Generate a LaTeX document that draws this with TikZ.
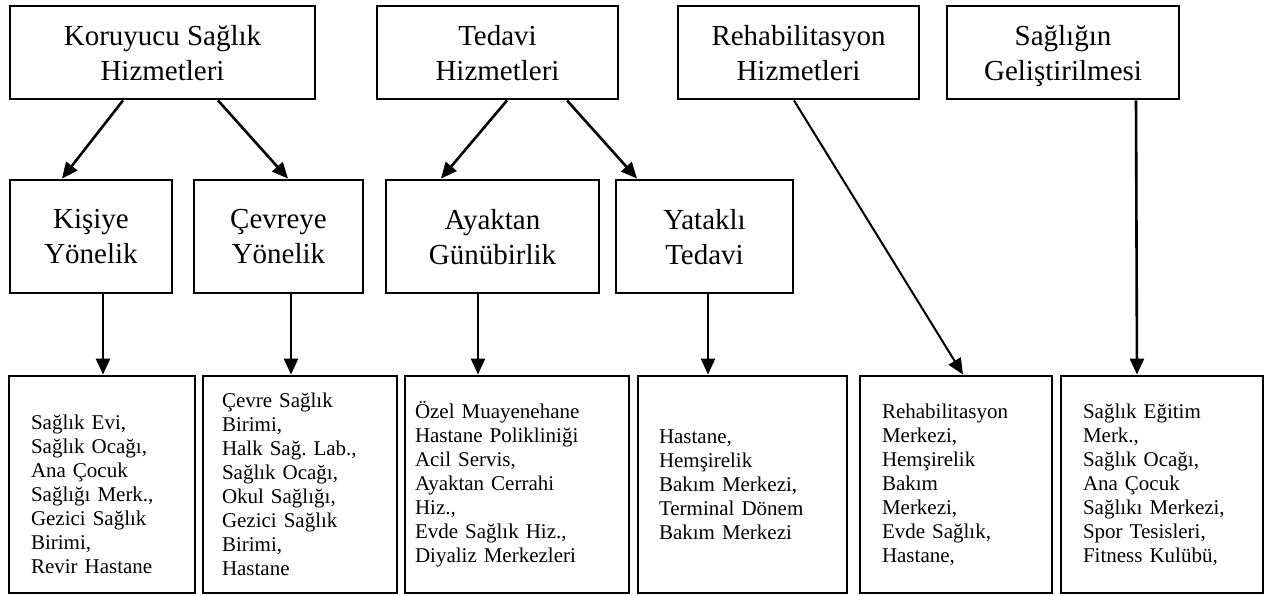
\documentclass[tikz,border=0pt]{standalone}
\usepackage{fontspec}
\setmainfont{Liberation Serif}
\usetikzlibrary{arrows.meta}
\frenchspacing
\begin{document}
\begin{tikzpicture}[x=1pt,y=-1pt,
  box/.style={draw, line width=2.9pt, inner sep=0pt, align=center, text depth=0pt, font=\fontsize{29}{35}\selectfont},
  leaf/.style={draw, line width=2.9pt, inner ysep=0pt, align=left, font=\fontsize{21}{24}\selectfont, minimum height=217pt},
  arr/.style={line width=2.6pt, -{Triangle[length=16pt,width=14pt]}}]
\useasboundingbox (0,0) rectangle (1272,596);
% top row
\node[box, minimum width=305pt, minimum height=93pt] (top1) at (162.5,52.5) {Koruyucu Sağlık\\Hizmetleri};
\node[box, minimum width=241pt, minimum height=93pt] (top2) at (497.5,52.5) {Tedavi\\Hizmetleri};
\node[box, minimum width=241pt, minimum height=93pt] (top3) at (798.5,52.5) {Rehabilitasyon\\Hizmetleri};
\node[box, minimum width=232pt, minimum height=93pt] (top4) at (1063,52.5) {Sağlığın\\Geliştirilmesi};
% middle row
\node[box, minimum width=162pt, minimum height=113pt] (mid1) at (91,236.5) {Kişiye\\Yönelik};
\node[box, minimum width=169pt, minimum height=113pt] (mid2) at (278.5,236.5) {Çevreye\\Yönelik};
\node[box, minimum width=213pt, minimum height=113pt] (mid3) at (492.5,236.5) {Ayaktan\\Günübirlik};
\node[box, minimum width=177pt, minimum height=113pt] (mid4) at (704.5,236.5) {Yataklı\\Tedavi};
% bottom row
\node[leaf, inner xsep=22pt, text width=142pt] (leaf1) at (102,484.5) {\rule{0pt}{35pt}Sağlık Evi,\\Sağlık Ocağı,\\Ana Çocuk\\Sağlığı Merk.,\\Gezici Sağlık\\Birimi,\\Revir Hastane};
\node[leaf, inner xsep=19pt, text width=156pt] (leaf2) at (300,484.5) {Çevre Sağlık\\Birimi,\\Halk Sağ. Lab.,\\Sağlık Ocağı,\\Okul Sağlığı,\\Gezici Sağlık\\Birimi,\\Hastane};
\node[leaf, inner xsep=10pt, text width=204pt] (leaf3) at (517,484.5) {Özel Muayenehane\\Hastane Polikliniği\\Acil Servis,\\Ayaktan Cerrahi\\Hiz.,\\Evde Sağlık Hiz.,\\Diyaliz Merkezleri};
\node[leaf, inner xsep=21pt, text width=167pt] (leaf4) at (742.5,484.5) {Hastane,\\Hemşirelik\\Bakım Merkezi,\\Terminal Dönem\\Bakım Merkezi};
\node[leaf, inner xsep=22pt, text width=148pt] (leaf5) at (956,484.5) {Rehabilitasyon\\Merkezi,\\Hemşirelik\\Bakım\\Merkezi,\\Evde Sağlık,\\Hastane,};
\node[leaf, inner xsep=22pt, text width=158pt] (leaf6) at (1162,484.5) {Sağlık Eğitim\\Merk.,\\Sağlık Ocağı,\\Ana Çocuk\\Sağlıkı Merkezi,\\Spor Tesisleri,\\Fitness Kulübü,};
% connectors
\draw[arr] ([xshift=-39.5pt]top1.south) -- ([xshift=-29pt]mid1.north);
\draw[arr] ([xshift=55.5pt]top1.south) -- ([xshift=9.5pt]mid2.north);
\draw[arr] ([xshift=9.5pt]top2.south) -- ([xshift=-51.5pt]mid3.north);
\draw[arr] ([xshift=69.5pt]top2.south) -- ([xshift=-67.5pt]mid4.north);
\draw[arr, line width=2pt] ([xshift=-4.5pt]top3.south) -- ([xshift=7pt]leaf5.north);
\draw[arr] ([xshift=73pt]top4.south) -- ([xshift=-25pt]leaf6.north);
\draw[arr] ([xshift=12pt]mid1.south) -- ([xshift=1pt]leaf1.north);
\draw[arr] ([xshift=12.5pt]mid2.south) -- ([xshift=-9pt]leaf2.north);
\draw[arr] ([xshift=-14.5pt]mid3.south) -- ([xshift=-39pt]leaf3.north);
\draw[arr] ([xshift=3.5pt]mid4.south) -- ([xshift=-34.5pt]leaf4.north);
\end{tikzpicture}
\end{document}
